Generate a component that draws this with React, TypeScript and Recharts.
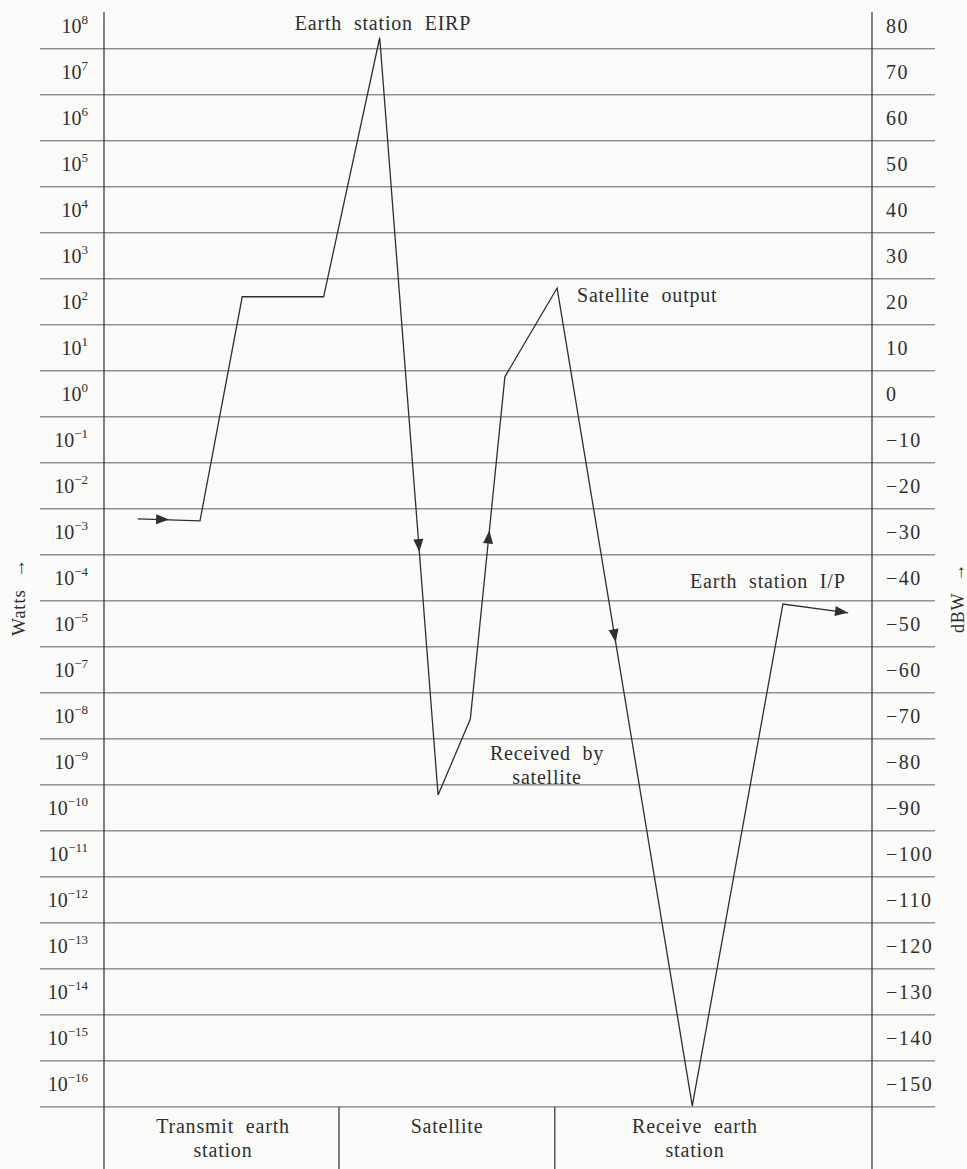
import {
  ComposedChart,
  Line,
  Scatter,
  XAxis,
  YAxis,
  ReferenceLine,
  ReferenceDot,
} from 'recharts';

// signal level along the link: x = position along the path (0-100), level in dBW
const pathX = [4.4, 12.5, 18.0, 28.6, 35.9, 43.5, 47.7, 52.2, 59.0, 76.6, 88.4, 96.9];
const pathDbw = [-27.2, -27.6, 21.1, 21.1, 77.4, -87.2, -70.7, 3.7, 23.0, -154.8, -45.7, -47.6];

// arrow heads on the path (and which path segment each one sits on)
const arrowX = [7.7, 41.0, 50.1, 66.5, 96.1];
const arrowDbw = [-27.3, -33.1, -31.0, -52.7, -47.4];
const arrowSeg = [0, 4, 6, 8, 10];

// axis ticks
const dbwTicks = [80, 70, 60, 50, 40, 30, 20, 10, 0, -10, -20, -30, -40, -50, -60, -70, -80, -90, -100, -110, -120, -130, -140, -150];
const wattExp = ['8', '7', '6', '5', '4', '3', '2', '1', '0', '−1', '−2', '−3', '−4', '−5', '−7', '−8', '−9', '−10', '−11', '−12', '−13', '−14', '−15', '−16'];
const gridDbw = [75, 65, 55, 45, 35, 25, 15, 5, -5, -15, -25, -35, -45, -55, -65, -75, -85, -95, -105, -115, -125, -135, -145, -155];

// stages along the bottom
const stageNames = [['Transmit earth', 'station'], ['Satellite'], ['Receive earth', 'station']];
const stageBounds = [30.6, 58.7];

const W = 967;
const H = 1169;
const LEFT = 104;
const RIGHT_W = 95;
const TOP = 12;
const PLOT_W = W - LEFT - RIGHT_W;
const PLOT_H = H - TOP;
const Y_MAX = 83;
const Y_MIN = -168.5;
const PX_X = PLOT_W / 100;
const PX_Y = PLOT_H / (Y_MAX - Y_MIN);

const INK = '#2f2f2f';
const RULE = '#5c5c5c';
const FONT = '"Liberation Serif", "DejaVu Serif", serif';

const xOf = (px: number) => (px - LEFT) / PX_X;
const yOf = (py: number) => Y_MAX - (py - TOP) / PX_Y;

const pathData = pathX.map((x, i) => ({ x, dbw: pathDbw[i] }));
const arrowData = arrowX.map((x, i) => {
  const s = arrowSeg[i];
  const dx = (pathX[s + 1] - pathX[s]) * PX_X;
  const dy = -(pathDbw[s + 1] - pathDbw[s]) * PX_Y;
  return { x, dbw: arrowDbw[i], angle: (Math.atan2(dy, dx) * 180) / Math.PI };
});

const notes = [
  { lines: ['Earth station EIRP'], px: 383, py: 30, anchor: 'middle' },
  { lines: ['Satellite output'], px: 577, py: 302, anchor: 'start' },
  { lines: ['Received by', 'satellite'], px: 547, py: 760, anchor: 'middle' },
  { lines: ['Earth station I/P'], px: 690, py: 588, anchor: 'start' },
];
const stageLabelPx = [223, 447, 695];

const textStyle = { fontFamily: FONT, fontSize: 20, fill: INK, letterSpacing: 0.8, wordSpacing: 6 };

function WattsTick(props: any) {
  const { x, y, payload } = props;
  const exp = wattExp[dbwTicks.indexOf(payload.value)];
  return (
    <text x={x} y={y} dy={7} textAnchor="end" style={{ fontFamily: FONT, fontSize: 20, fill: INK }}>
      10
      <tspan dy={-9} fontSize={13}>
        {exp}
      </tspan>
    </text>
  );
}

function DbwTick(props: any) {
  const { x, y, payload } = props;
  return (
    <text x={x} y={y} dy={7} textAnchor="start" style={{ fontFamily: FONT, fontSize: 20, fill: INK, letterSpacing: 1.5 }}>
      {String(payload.value).replace('-', '−')}
    </text>
  );
}

// horizontal rules run past both axes
function GridRule(props: any) {
  const lo = Math.min(props.x1, props.x2);
  const hi = Math.max(props.x1, props.x2);
  return <line x1={lo - 64} x2={hi + 63} y1={props.y1} y2={props.y2} stroke={RULE} strokeWidth={1} />;
}

function Arrow(props: any) {
  const { cx, cy, payload } = props;
  return (
    <polygon
      points="6,0 -7,-5 -7,5"
      transform={`translate(${cx},${cy}) rotate(${payload.angle})`}
      fill={INK}
    />
  );
}

function textBlock(lines: string[], anchor: string, rotate?: boolean, size = 20) {
  return (props: any) => {
    const { cx, cy } = props;
    return (
      <text
        x={cx}
        y={cy}
        textAnchor={anchor}
        style={{ ...textStyle, fontSize: size }}
        transform={rotate ? `rotate(-90 ${cx} ${cy})` : undefined}
      >
        {lines.map((l, i) => (
          <tspan key={i} x={cx} dy={i === 0 ? 0 : 24}>
            {l}
          </tspan>
        ))}
      </text>
    );
  };
}

export default function App() {
  return (
    <div style={{ position: 'absolute', left: 0, top: 0, width: W, height: H, background: '#fbfbfa' }}>
      <ComposedChart width={W} height={H} margin={{ top: TOP, right: 0, bottom: 0, left: 0 }}>
        <XAxis type="number" dataKey="x" domain={[0, 100]} hide />
        <YAxis
          yAxisId="w"
          orientation="left"
          width={LEFT}
          type="number"
          dataKey="dbw"
          domain={[Y_MIN, Y_MAX]}
          ticks={dbwTicks}
          interval={0}
          tickLine={false}
          tickSize={6}
          tickMargin={10}
          axisLine={{ stroke: INK, strokeWidth: 1.2 }}
          tick={<WattsTick />}
        />
        <YAxis
          yAxisId="d"
          orientation="right"
          width={RIGHT_W}
          type="number"
          dataKey="dbw"
          domain={[Y_MIN, Y_MAX]}
          ticks={dbwTicks}
          interval={0}
          tickLine={false}
          tickSize={6}
          tickMargin={8}
          axisLine={{ stroke: INK, strokeWidth: 1.2 }}
          tick={<DbwTick />}
        />
        {gridDbw.map((v) => (
          <ReferenceLine key={v} yAxisId="d" y={v} shape={GridRule} />
        ))}
        {stageBounds.map((b) => (
          <ReferenceLine
            key={b}
            yAxisId="d"
            segment={[{ x: b, y: -155 }, { x: b, y: Y_MIN }]}
            stroke={INK}
            strokeWidth={1.2}
          />
        ))}
        {stageNames.map((lines, i) => (
          <ReferenceDot
            key={i}
            yAxisId="d"
            x={xOf(stageLabelPx[i])}
            y={yOf(1133)}
            shape={textBlock(lines, 'middle')}
          />
        ))}
        {notes.map((n, i) => (
          <ReferenceDot key={i} yAxisId="d" x={xOf(n.px)} y={yOf(n.py)} shape={textBlock(n.lines, n.anchor)} />
        ))}
        <ReferenceDot yAxisId="d" x={xOf(25)} y={yOf(597)} ifOverflow="visible" shape={textBlock(['Watts →'], 'middle', true, 19)} />
        <ReferenceDot yAxisId="d" x={xOf(964)} y={yOf(598)} ifOverflow="visible" shape={textBlock(['dBW →'], 'middle', true, 18)} />
        <Line
          data={pathData}
          dataKey="dbw"
          yAxisId="d"
          type="linear"
          stroke={INK}
          strokeWidth={1.3}
          dot={false}
          activeDot={false}
          isAnimationActive={false}
        />
        <Scatter data={arrowData} dataKey="dbw" yAxisId="w" shape={Arrow} isAnimationActive={false} />
      </ComposedChart>
    </div>
  );
}
